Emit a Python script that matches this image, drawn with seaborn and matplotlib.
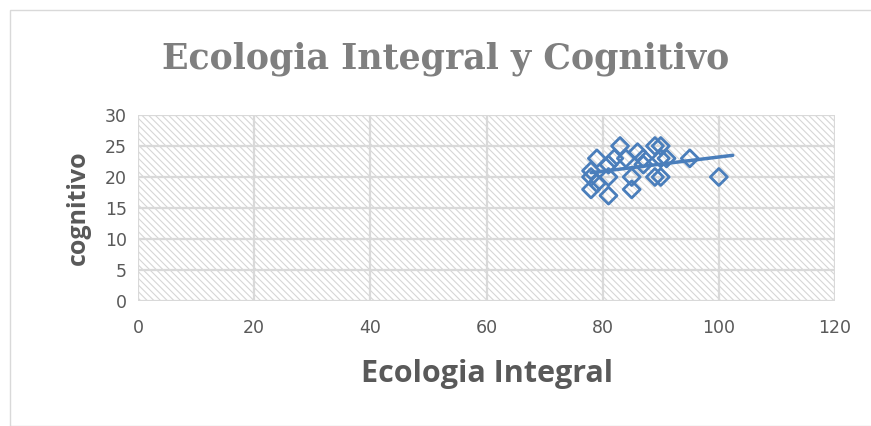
import numpy as np
import pandas as pd
import matplotlib
matplotlib.use("Agg")
import matplotlib.pyplot as plt
import seaborn as sns
from matplotlib.patches import Rectangle

ecologia = [78, 78, 78, 79, 79, 81, 81, 81, 82, 83, 84, 85, 85, 86, 87, 87,
            89, 89, 90, 90, 91, 90, 95, 100]
cognitivo = [20, 18, 21, 23, 19, 22, 20, 17, 23, 25, 23, 20, 18, 24, 22, 23,
             20, 25, 25, 23, 23, 20, 23, 20]
x_ticks = [0, 20, 40, 60, 80, 100, 120]
y_ticks = [0, 5, 10, 15, 20, 25, 30]

df = pd.DataFrame({"ecologia": ecologia, "cognitivo": cognitivo})

sns.set_style("white")
plt.rcParams["hatch.color"] = "#d6d6d6"
plt.rcParams["hatch.linewidth"] = 0.8

blue = "#4a7ebb"
gray = "#595959"

fig = plt.figure(figsize=(8.71, 4.26), dpi=100)
fig.patches.append(Rectangle((10 / 871, 0), 1, 1 - 10 / 426, transform=fig.transFigure,
                             fill=False, edgecolor="#d9d9d9", linewidth=1))
ax = fig.add_axes([138 / 871, 1 - 301 / 426, (835 - 138) / 871, (301 - 115) / 426])

ax.add_patch(Rectangle((0, 0), 1, 1, transform=ax.transAxes, facecolor="white",
                       edgecolor="#d6d6d6", hatch="\\\\\\\\\\", linewidth=0, zorder=0))

sns.scatterplot(data=df, x="ecologia", y="cognitivo", marker="D", s=75,
                facecolor="none", edgecolor=blue, linewidth=2, ax=ax, zorder=3)

# linear trend line
m, b = np.polyfit(df["ecologia"], df["cognitivo"], 1)
xs = np.array([df["ecologia"].min(), df["ecologia"].max() + 2.4])
ax.plot(xs, m * xs + b, color=blue, linewidth=2.5, zorder=4)

ax.set_xlim(0, 120)
ax.set_ylim(0, 30)
ax.set_xticks(x_ticks)
ax.set_yticks(y_ticks)
ax.grid(True, color="#d9d9d9", linewidth=1.6)
ax.set_axisbelow(True)
for s in ax.spines.values():
    s.set_visible(False)
ax.tick_params(axis="both", length=0, labelsize=12.5, labelcolor=gray, pad=8)
ax.tick_params(axis="x", pad=13)

ax.set_xlabel("Ecologia Integral", fontsize=22, fontweight="bold", color=gray,
              family=["Open Sans", "DejaVu Sans"], labelpad=16)
ax.set_ylabel("cognitivo", fontsize=18, fontweight="bold", color=gray,
              family=["Open Sans", "DejaVu Sans"], labelpad=10)
fig.text(0.512, 0.862, "Ecologia Integral y Cognitivo", ha="center", va="center",
         fontsize=25, fontweight="bold", color="#7f7f7f",
         family=["DejaVu Serif"])

fig.savefig("out.png", dpi=100)
